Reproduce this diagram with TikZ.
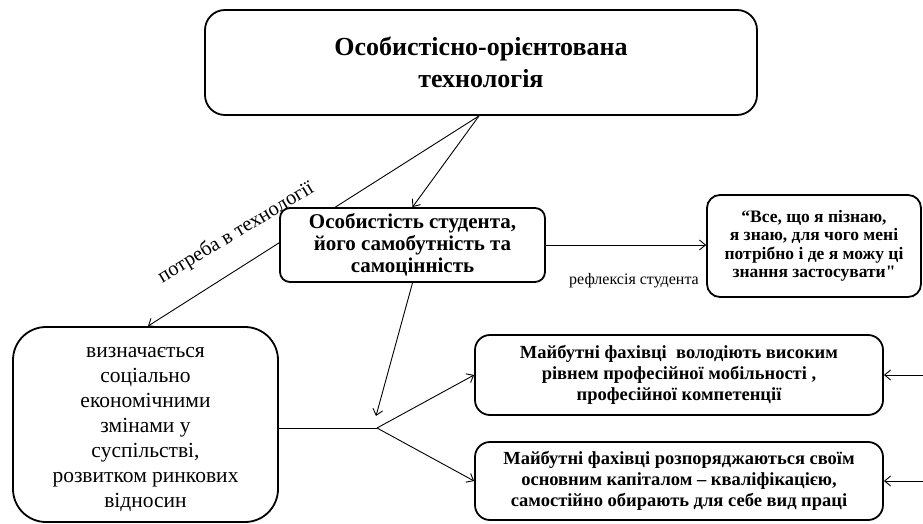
\documentclass[tikz,border=0pt]{standalone}
\usepackage{fontspec}
\setmainfont{Liberation Serif}[Ligatures=TeXOff]
\usetikzlibrary{arrows.meta}
\pgfdeclarelayer{bg}
\pgfsetlayers{bg,main}
\begin{document}
\begin{tikzpicture}[x=1pt,y=-1pt,
  box/.style={draw, line width=1.8pt, fill=white, align=center, inner sep=0pt},
  conn/.style={line width=0.9pt, -{Straight Barb[length=6pt,width=10pt]}},
  plainline/.style={line width=0.9pt}]
\useasboundingbox (0,0) rectangle (923,524);

\node[box, minimum width=552pt, minimum height=105pt, rounded corners=20pt,
      font=\fontsize{26}{32}\selectfont\bfseries] (top) at (481,62.5)
      {Особистісно-орієнтована\\технологія};
\node[box, minimum width=265pt, minimum height=74pt, rounded corners=10pt,
      font=\fontsize{21}{22}\selectfont\bfseries] (stud) at (412.5,245)
      {Особистість студента,\\його самобутність та\\самоцінність};
\node[box, minimum width=214pt, minimum height=102pt, rounded corners=13pt,
      font=\fontsize{17.5}{18.5}\selectfont\bfseries] (quote) at (814,246)
      {“Все, що я пізнаю,\\я знаю, для чого мені\\потрібно і де я можу ці\\знання застосувати"};
\node[box, minimum width=265pt, minimum height=195pt, rounded corners=33pt,
      font=\fontsize{21.5}{25}\selectfont] (left) at (145.5,424.5)
      {\rule{0pt}{20pt}визначається\\соціально\\економічними\\змінами у\\суспільстві,\\розвитком ринкових\\відносин};
\node[box, minimum width=408pt, minimum height=80pt, rounded corners=15pt,
      font=\fontsize{18.5}{21}\selectfont\bfseries] (m1) at (679,375)
      {Майбутні фахівці\ \ володіють високим\\рівнем професійної мобільності ,\\професійної компетенції};
\node[box, minimum width=408pt, minimum height=78pt, rounded corners=15pt,
      font=\fontsize{18.5}{21}\selectfont\bfseries] (m2) at (679,481)
      {Майбутні фахівці розпоряджаються своїм\\основним капіталом – кваліфікацією,\\самостійно обирають для себе вид праці};

\node[rotate=31, font=\fontsize{20.5}{22}\selectfont, inner sep=0pt] (lab1) at (236,233) {потреба в технології};
\node[font=\fontsize{16}{18}\selectfont, inner sep=0pt] (lab2) at (634,281) {рефлексія студента};

\coordinate (J) at (377,428);
\coordinate (Dend) at (376,416);
\coordinate (R1) at (923,375);
\coordinate (R2) at (923,481);

\begin{pgfonlayer}{bg}
\draw[conn] ([xshift=-2pt]top.south) -- (stud.north);
\draw[conn] ([xshift=-2pt]top.south) -- ([xshift=2.5pt]left.north);
\draw[conn] (stud.east) -- (stud.east -| quote.west);
\draw[conn] (stud.south) -- (Dend);
\draw[plainline] (left.east |- J) -- (J);
\draw[conn] (J) -- (m1.west);
\draw[conn] (J) -- (m2.west);
\draw[conn] (R1) -- (m1.east);
\draw[conn] (R2) -- (m2.east);
\end{pgfonlayer}
\end{tikzpicture}
\end{document}
